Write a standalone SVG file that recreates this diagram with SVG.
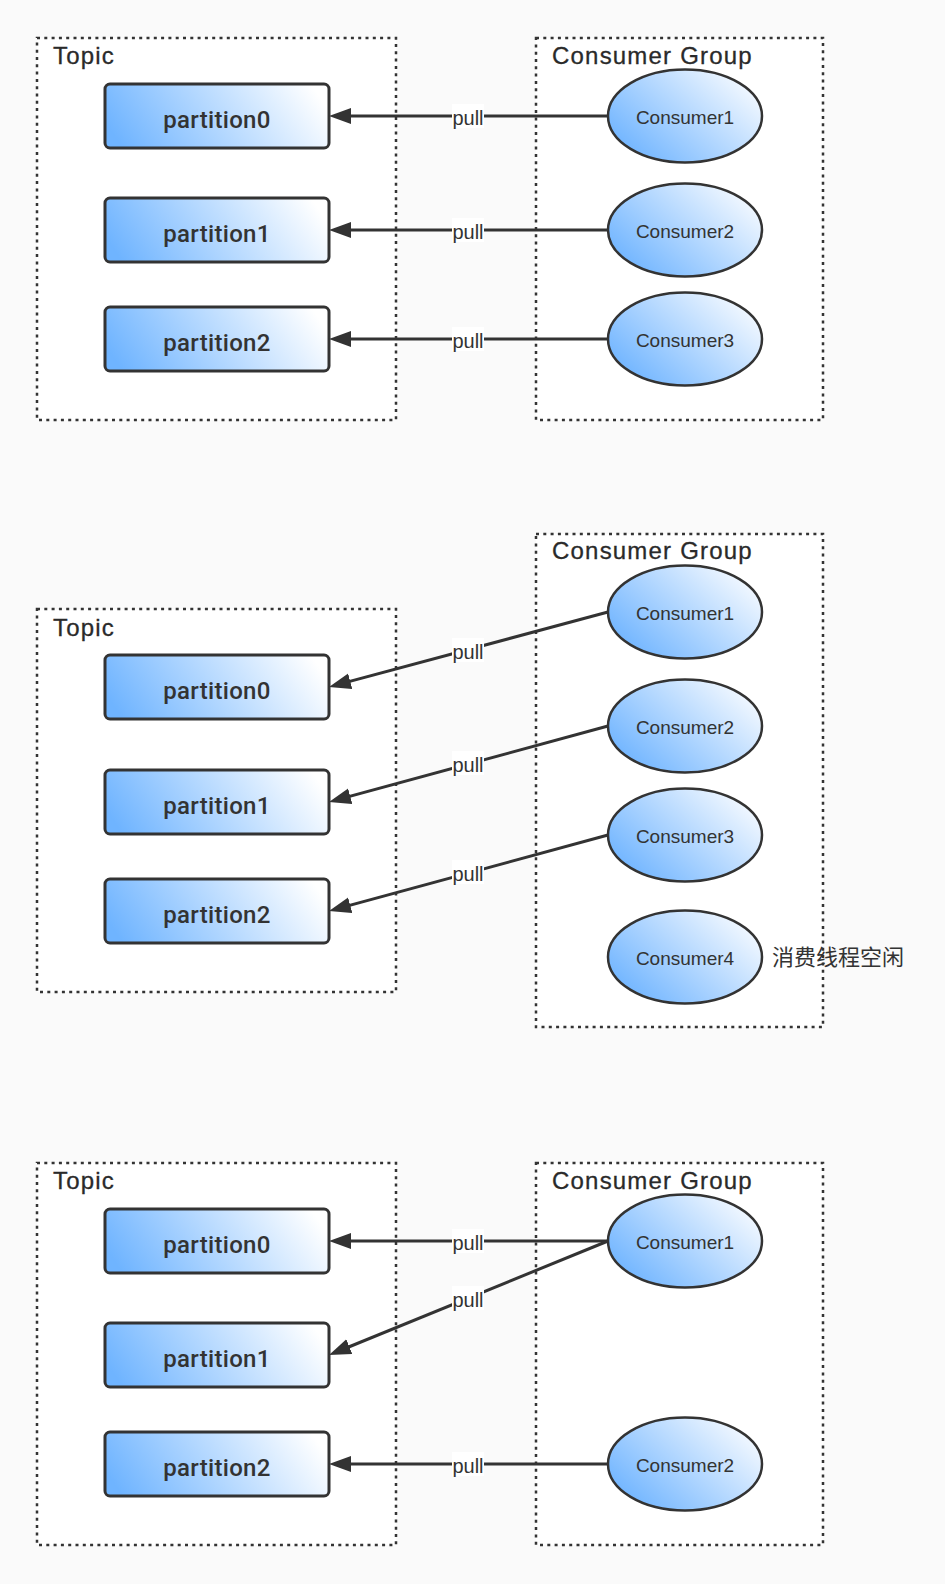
<svg xmlns="http://www.w3.org/2000/svg" width="945" height="1584" viewBox="0 0 945 1584">
<defs>
<linearGradient id="gp" x1="0" y1="0.6" x2="1" y2="0.4">
<stop offset="0" stop-color="#6fb4ff"/>
<stop offset="1" stop-color="#ffffff"/>
</linearGradient>
<linearGradient id="ge" x1="0.05" y1="0.8" x2="0.95" y2="0.2">
<stop offset="0" stop-color="#6fb4ff"/>
<stop offset="1" stop-color="#f4f9ff"/>
</linearGradient>
<marker id="arr" markerUnits="userSpaceOnUse" markerWidth="24" markerHeight="18" refX="14" refY="8" orient="auto">
<path d="M0,0 L22,8 L0,16 Z" fill="#333"/>
</marker>
</defs>
<style>
.grp{fill:#fff;stroke:#333;stroke-width:2.5;stroke-dasharray:3 4.3}
.title{font-family:"Liberation Sans",Arial,sans-serif;font-size:24px;fill:#2a2a2a;letter-spacing:1.2px;stroke:#2a2a2a;stroke-width:0.3px}
.part rect{fill:url(#gp);stroke:#333;stroke-width:3}
.part text{font-family:Roboto,"Liberation Sans",Arial,sans-serif;font-size:24px;font-weight:500;fill:#333;text-anchor:middle;letter-spacing:0.3px}
.cons ellipse{fill:url(#ge);stroke:#333;stroke-width:2.5}
.cons text{font-family:"Liberation Sans",Arial,sans-serif;font-size:19px;fill:#333;text-anchor:middle}
.edge{stroke:#333;stroke-width:3;fill:none;marker-end:url(#arr)}
.lblbg{fill:#fff}
.lbl{font-family:"Liberation Sans",Arial,sans-serif;font-size:20px;fill:#333;text-anchor:middle}
.note{font-family:"Liberation Sans","Noto Sans CJK SC",sans-serif;font-size:22px;fill:#333}
</style>
<rect x="0" y="0" width="945" height="1584" fill="#fafafa"/>

<!-- Panel 1 -->
<g id="p1-topic"><rect class="grp" x="37" y="38" width="359" height="382"/><text class="title" x="53" y="64">Topic</text></g>
<g id="p1-group"><rect class="grp" x="536" y="38" width="287" height="382"/><text class="title" x="552" y="64">Consumer Group</text></g>
<g id="p1-partition0" class="part"><rect x="105" y="84" width="224" height="64" rx="5"/><text x="217" y="128">partition0</text></g>
<g id="p1-partition1" class="part"><rect x="105" y="198" width="224" height="64" rx="5"/><text x="217" y="242">partition1</text></g>
<g id="p1-partition2" class="part"><rect x="105" y="307" width="224" height="64" rx="5"/><text x="217" y="351">partition2</text></g>
<g id="p1-consumer1" class="cons"><ellipse cx="685" cy="116" rx="77" ry="46.5"/><text x="685" y="124">Consumer1</text></g>
<g id="p1-consumer2" class="cons"><ellipse cx="685" cy="230" rx="77" ry="46.5"/><text x="685" y="238">Consumer2</text></g>
<g id="p1-consumer3" class="cons"><ellipse cx="685" cy="339" rx="77" ry="46.5"/><text x="685" y="347">Consumer3</text></g>

<!-- Panel 2 -->
<g id="p2-topic"><rect class="grp" x="37" y="609" width="359" height="383"/><text class="title" x="53" y="636">Topic</text></g>
<g id="p2-group"><rect class="grp" x="536" y="534" width="287" height="493"/><text class="title" x="552" y="559">Consumer Group</text></g>
<g id="p2-partition0" class="part"><rect x="105" y="655" width="224" height="64" rx="5"/><text x="217" y="699">partition0</text></g>
<g id="p2-partition1" class="part"><rect x="105" y="770" width="224" height="64" rx="5"/><text x="217" y="814">partition1</text></g>
<g id="p2-partition2" class="part"><rect x="105" y="879" width="224" height="64" rx="5"/><text x="217" y="923">partition2</text></g>
<g id="p2-consumer1" class="cons"><ellipse cx="685" cy="612" rx="77" ry="46.5"/><text x="685" y="620">Consumer1</text></g>
<g id="p2-consumer2" class="cons"><ellipse cx="685" cy="726" rx="77" ry="46.5"/><text x="685" y="734">Consumer2</text></g>
<g id="p2-consumer3" class="cons"><ellipse cx="685" cy="835" rx="77" ry="46.5"/><text x="685" y="843">Consumer3</text></g>
<g id="p2-consumer4" class="cons"><ellipse cx="685" cy="957" rx="77" ry="46.5"/><text x="685" y="965">Consumer4</text></g>
<g id="p2-note"><text class="note" x="772" y="965">消费线程空闲</text></g>

<!-- Panel 3 -->
<g id="p3-topic"><rect class="grp" x="37" y="1163" width="359" height="382"/><text class="title" x="53" y="1189">Topic</text></g>
<g id="p3-group"><rect class="grp" x="536" y="1163" width="287" height="382"/><text class="title" x="552" y="1189">Consumer Group</text></g>
<g id="p3-partition0" class="part"><rect x="105" y="1209" width="224" height="64" rx="5"/><text x="217" y="1253">partition0</text></g>
<g id="p3-partition1" class="part"><rect x="105" y="1323" width="224" height="64" rx="5"/><text x="217" y="1367">partition1</text></g>
<g id="p3-partition2" class="part"><rect x="105" y="1432" width="224" height="64" rx="5"/><text x="217" y="1476">partition2</text></g>
<g id="p3-consumer1" class="cons"><ellipse cx="685" cy="1241" rx="77" ry="46.5"/><text x="685" y="1249">Consumer1</text></g>
<g id="p3-consumer2" class="cons"><ellipse cx="685" cy="1464" rx="77" ry="46.5"/><text x="685" y="1472">Consumer2</text></g>

<!-- Connectors -->
<g id="connectors">
<line class="edge" x1="608" y1="116" x2="337" y2="116"/>
<line class="edge" x1="608" y1="230" x2="337" y2="230"/>
<line class="edge" x1="608" y1="339" x2="337" y2="339"/>
<line class="edge" x1="608" y1="612" x2="336.7" y2="684.9"/>
<line class="edge" x1="608" y1="726" x2="336.7" y2="799.9"/>
<line class="edge" x1="608" y1="835" x2="336.7" y2="908.9"/>
<line class="edge" x1="608" y1="1241" x2="337" y2="1241"/>
<line class="edge" x1="608" y1="1241" x2="336.4" y2="1352"/>
<line class="edge" x1="608" y1="1464" x2="337" y2="1464"/>
<g id="labels">
<rect class="lblbg" x="452" y="104" width="32" height="24"/><text class="lbl" x="468" y="125">pull</text>
<rect class="lblbg" x="452" y="218" width="32" height="24"/><text class="lbl" x="468" y="239">pull</text>
<rect class="lblbg" x="452" y="327" width="32" height="24"/><text class="lbl" x="468" y="348">pull</text>
<rect class="lblbg" x="452" y="638" width="32" height="24"/><text class="lbl" x="468" y="659">pull</text>
<rect class="lblbg" x="452" y="751" width="32" height="24"/><text class="lbl" x="468" y="772">pull</text>
<rect class="lblbg" x="452" y="860" width="32" height="24"/><text class="lbl" x="468" y="881">pull</text>
<rect class="lblbg" x="452" y="1229" width="32" height="24"/><text class="lbl" x="468" y="1250">pull</text>
<rect class="lblbg" x="452" y="1286" width="32" height="24"/><text class="lbl" x="468" y="1307">pull</text>
<rect class="lblbg" x="452" y="1452" width="32" height="24"/><text class="lbl" x="468" y="1473">pull</text>
</g>
</g>
</svg>
